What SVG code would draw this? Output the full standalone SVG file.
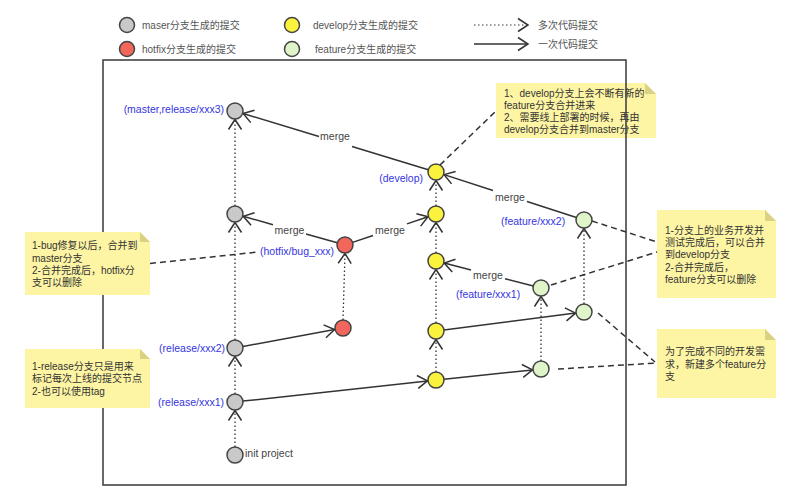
<svg xmlns="http://www.w3.org/2000/svg" width="800" height="498" viewBox="0 0 800 498">
<defs>
<style>
text{font-family:"Liberation Sans","Noto Sans CJK SC",sans-serif}
.n{stroke:#444;stroke-width:1.5}
.gray{fill:#c9c9c9}.red{fill:#f2665c}.yel{fill:#fbf23e}.grn{fill:#dff5c9}
.lbl{fill:#3535e0;font-size:10.5px}
.mg{fill:#444;font-size:10.5px}
.lg{fill:#555;font-size:10px}
.solid{stroke:#333;stroke-width:1.5;fill:none}
.arr{marker-end:url(#v)}
.dot{stroke:#333;stroke-width:1.3;stroke-dasharray:1.5 2.5;fill:none}
.dash{stroke:#333;stroke-width:1.5;stroke-dasharray:6 4;fill:none}
.note{fill:#fdf5a4}
.fold{fill:#d9d183}
.nt{fill:#333;font-size:10px}
</style>
<marker id="v" markerUnits="userSpaceOnUse" orient="auto" refX="0" refY="0" markerWidth="20" markerHeight="20" style="overflow:visible">
<path d="M-10,-6.5 L0,0 L-10,6.5" fill="none" stroke="#333" stroke-width="1.5" stroke-dasharray="none"/>
</marker>
</defs>
<rect width="800" height="498" fill="#fff"/>

<g id="legend">
<circle class="n gray" cx="127" cy="25" r="7.5"/>
<text class="lg" x="142" y="28.5">maser分支生成的提交</text>
<circle class="n red" cx="127" cy="49" r="7.5"/>
<text class="lg" x="142" y="52.5">hotfix分支生成的提交</text>
<circle class="n yel" cx="292" cy="25" r="7.5"/>
<text class="lg" x="313" y="28.5">develop分支生成的提交</text>
<circle class="n grn" cx="292" cy="49" r="7.5"/>
<text class="lg" x="315" y="52.5">feature分支生成的提交</text>
<line class="dot arr" x1="474" y1="25" x2="528" y2="25" style="stroke-width:1"/>
<text class="lg" x="538" y="28.5">多次代码提交</text>
<line class="solid arr" x1="474" y1="44" x2="528" y2="44"/>
<text class="lg" x="538" y="48">一次代码提交</text>
</g>

<g id="note-develop">
<path class="note" d="M496,83 H645 L656,94 V138 H496 Z"/>
<path class="fold" d="M645,83 L656,94 H645 Z"/>
<text class="nt" x="504" y="96.8">1、develop分支上会不断有新的</text>
<text class="nt" x="504" y="108.8">feature分支合并进来</text>
<text class="nt" x="504" y="121">2、需要线上部署的时候，再由</text>
<text class="nt" x="504" y="133.3">develop分支合并到master分支</text>
</g>

<rect id="frame" x="103" y="60" width="523" height="425" fill="none" stroke="#444" stroke-width="1.6"/>

<g id="note-hotfix">
<path class="note" d="M25,232 H140 L150,242 V295 H25 Z"/>
<path class="fold" d="M140,232 L150,242 H140 Z"/>
<text class="nt" x="32" y="249">1-bug修复以后，合并到</text>
<text class="nt" x="32" y="261.5">master分支</text>
<text class="nt" x="32" y="274">2-合并完成后，hotfix分</text>
<text class="nt" x="32" y="286">支可以删除</text>
</g>
<g id="note-release">
<path class="note" d="M25,349 H140 L150,359 V408 H25 Z"/>
<path class="fold" d="M140,349 L150,359 H140 Z"/>
<text class="nt" x="32" y="370">1-release分支只是用来</text>
<text class="nt" x="32" y="382">标记每次上线的提交节点</text>
<text class="nt" x="32" y="394.5">2-也可以使用tag</text>
</g>
<g id="note-merge">
<path class="note" d="M657,210 H765 L776,221 V298 H657 Z"/>
<path class="fold" d="M765,210 L776,221 H765 Z"/>
<text class="nt" x="665" y="234">1-分支上的业务开发并</text>
<text class="nt" x="665" y="246">测试完成后，可以合并</text>
<text class="nt" x="665" y="258">到develop分支</text>
<text class="nt" x="665" y="270.5">2-合并完成后，</text>
<text class="nt" x="665" y="282.5">feature分支可以删除</text>
</g>
<g id="note-feature">
<path class="note" d="M657,329 H765 L776,340 V398 H657 Z"/>
<path class="fold" d="M765,329 L776,340 H765 Z"/>
<text class="nt" x="665" y="355">为了完成不同的开发需</text>
<text class="nt" x="665" y="367.5">求，新建多个feature分</text>
<text class="nt" x="665" y="380">支</text>
</g>

<g id="connectors">
<!-- note links -->
<line class="dash" x1="440" y1="165" x2="496" y2="111"/>
<line class="dash" x1="592" y1="221" x2="657" y2="242"/>
<line class="dash" x1="551" y1="285" x2="657" y2="252"/>
<line class="dash" x1="598" y1="313" x2="655" y2="362"/>
<line class="dash" x1="558" y1="369" x2="657" y2="363"/>
<line class="dash" x1="150" y1="263.5" x2="258" y2="252"/>
<!-- dotted commits -->
<line class="dot arr" x1="235" y1="447" x2="235" y2="410.5"/>
<line class="dot arr" x1="235" y1="394" x2="235" y2="356.5"/>
<line class="dot arr" x1="235" y1="340" x2="235" y2="222.5"/>
<line class="dot arr" x1="235" y1="206" x2="235" y2="119.5"/>
<line class="dot arr" x1="343" y1="320" x2="345" y2="253.5"/>
<line class="dot arr" x1="436" y1="372" x2="436" y2="339.5"/>
<line class="dot arr" x1="436" y1="323" x2="436" y2="269.5"/>
<line class="dot arr" x1="436" y1="253" x2="436" y2="222.5"/>
<line class="dot arr" x1="436" y1="206" x2="436" y2="180.5"/>
<line class="dot arr" x1="541" y1="361" x2="541" y2="296.5"/>
<line class="dot arr" x1="584" y1="304" x2="584" y2="228.5"/>
<!-- single commits -->
<line class="solid arr" x1="242.9" y1="346.5" x2="334.6" y2="329.5"/>
<line class="solid arr" x1="243" y1="401.1" x2="427.5" y2="380.9"/>
<line class="solid arr" x1="443.9" y1="330" x2="575.6" y2="313.1"/>
<line class="solid arr" x1="444" y1="379.2" x2="532.5" y2="369.9"/>
<!-- merges -->
<line class="solid" x1="428.3" y1="169.7" x2="352" y2="146.5"/>
<line class="solid arr" x1="319" y1="136.5" x2="243.1" y2="113.5"/>
<text class="mg" x="335" y="139.5" text-anchor="middle">merge</text>
<line class="solid" x1="576.4" y1="217.5" x2="527" y2="201.5"/>
<line class="solid arr" x1="493" y1="190.5" x2="444.1" y2="174.6"/>
<text class="mg" x="510" y="200.5" text-anchor="middle">merge</text>
<line class="solid" x1="337.3" y1="242.8" x2="306" y2="234"/>
<line class="solid arr" x1="273" y1="224.7" x2="243.2" y2="216.3"/>
<text class="mg" x="289.5" y="233.5" text-anchor="middle">merge</text>
<line class="solid" x1="352.6" y1="242.4" x2="373" y2="235.5"/>
<line class="solid arr" x1="407" y1="223.9" x2="428" y2="216.7"/>
<text class="mg" x="390" y="233.5" text-anchor="middle">merge</text>
<line class="solid" x1="533.3" y1="286" x2="505" y2="278.7"/>
<line class="solid arr" x1="471" y1="270" x2="444.2" y2="263.1"/>
<text class="mg" x="488" y="278.5" text-anchor="middle">merge</text>
</g>

<g id="n-master3"><circle class="n gray" cx="235" cy="111" r="8"/><text class="lbl" x="224" y="113" text-anchor="end">(master,release/xxx3)</text></g>
<g id="n-master2"><circle class="n gray" cx="235" cy="214" r="8"/></g>
<g id="n-release2"><circle class="n gray" cx="235" cy="348" r="8"/><text class="lbl" x="225" y="352" text-anchor="end">(release/xxx2)</text></g>
<g id="n-release1"><circle class="n gray" cx="235" cy="402" r="8"/><text class="lbl" x="224" y="406" text-anchor="end">(release/xxx1)</text></g>
<g id="n-init"><circle class="n gray" cx="235" cy="455" r="8"/><text class="mg" x="245" y="457">init project</text></g>
<g id="n-hotfix2"><circle class="n red" cx="345" cy="245" r="8"/><text class="lbl" x="260" y="255">(hotfix/bug_xxx)</text></g>
<g id="n-hotfix1"><circle class="n red" cx="343" cy="328" r="8"/></g>
<g id="n-develop5"><circle class="n yel" cx="436" cy="172" r="8"/><text class="lbl" x="423" y="181.5" text-anchor="end">(develop)</text></g>
<g id="n-develop4"><circle class="n yel" cx="436" cy="214" r="8"/></g>
<g id="n-develop3"><circle class="n yel" cx="436" cy="261" r="8"/></g>
<g id="n-develop2"><circle class="n yel" cx="436" cy="331" r="8"/></g>
<g id="n-develop1"><circle class="n yel" cx="436" cy="380" r="8"/></g>
<g id="n-feature2b"><circle class="n grn" cx="584" cy="220" r="8"/><text class="lbl" x="501" y="225">(feature/xxx2)</text></g>
<g id="n-feature1b"><circle class="n grn" cx="541" cy="288" r="8"/><text class="lbl" x="456" y="297.5">(feature/xxx1)</text></g>
<g id="n-feature2a"><circle class="n grn" cx="584" cy="312" r="8"/></g>
<g id="n-feature1a"><circle class="n grn" cx="541" cy="369" r="8"/></g>
</svg>
